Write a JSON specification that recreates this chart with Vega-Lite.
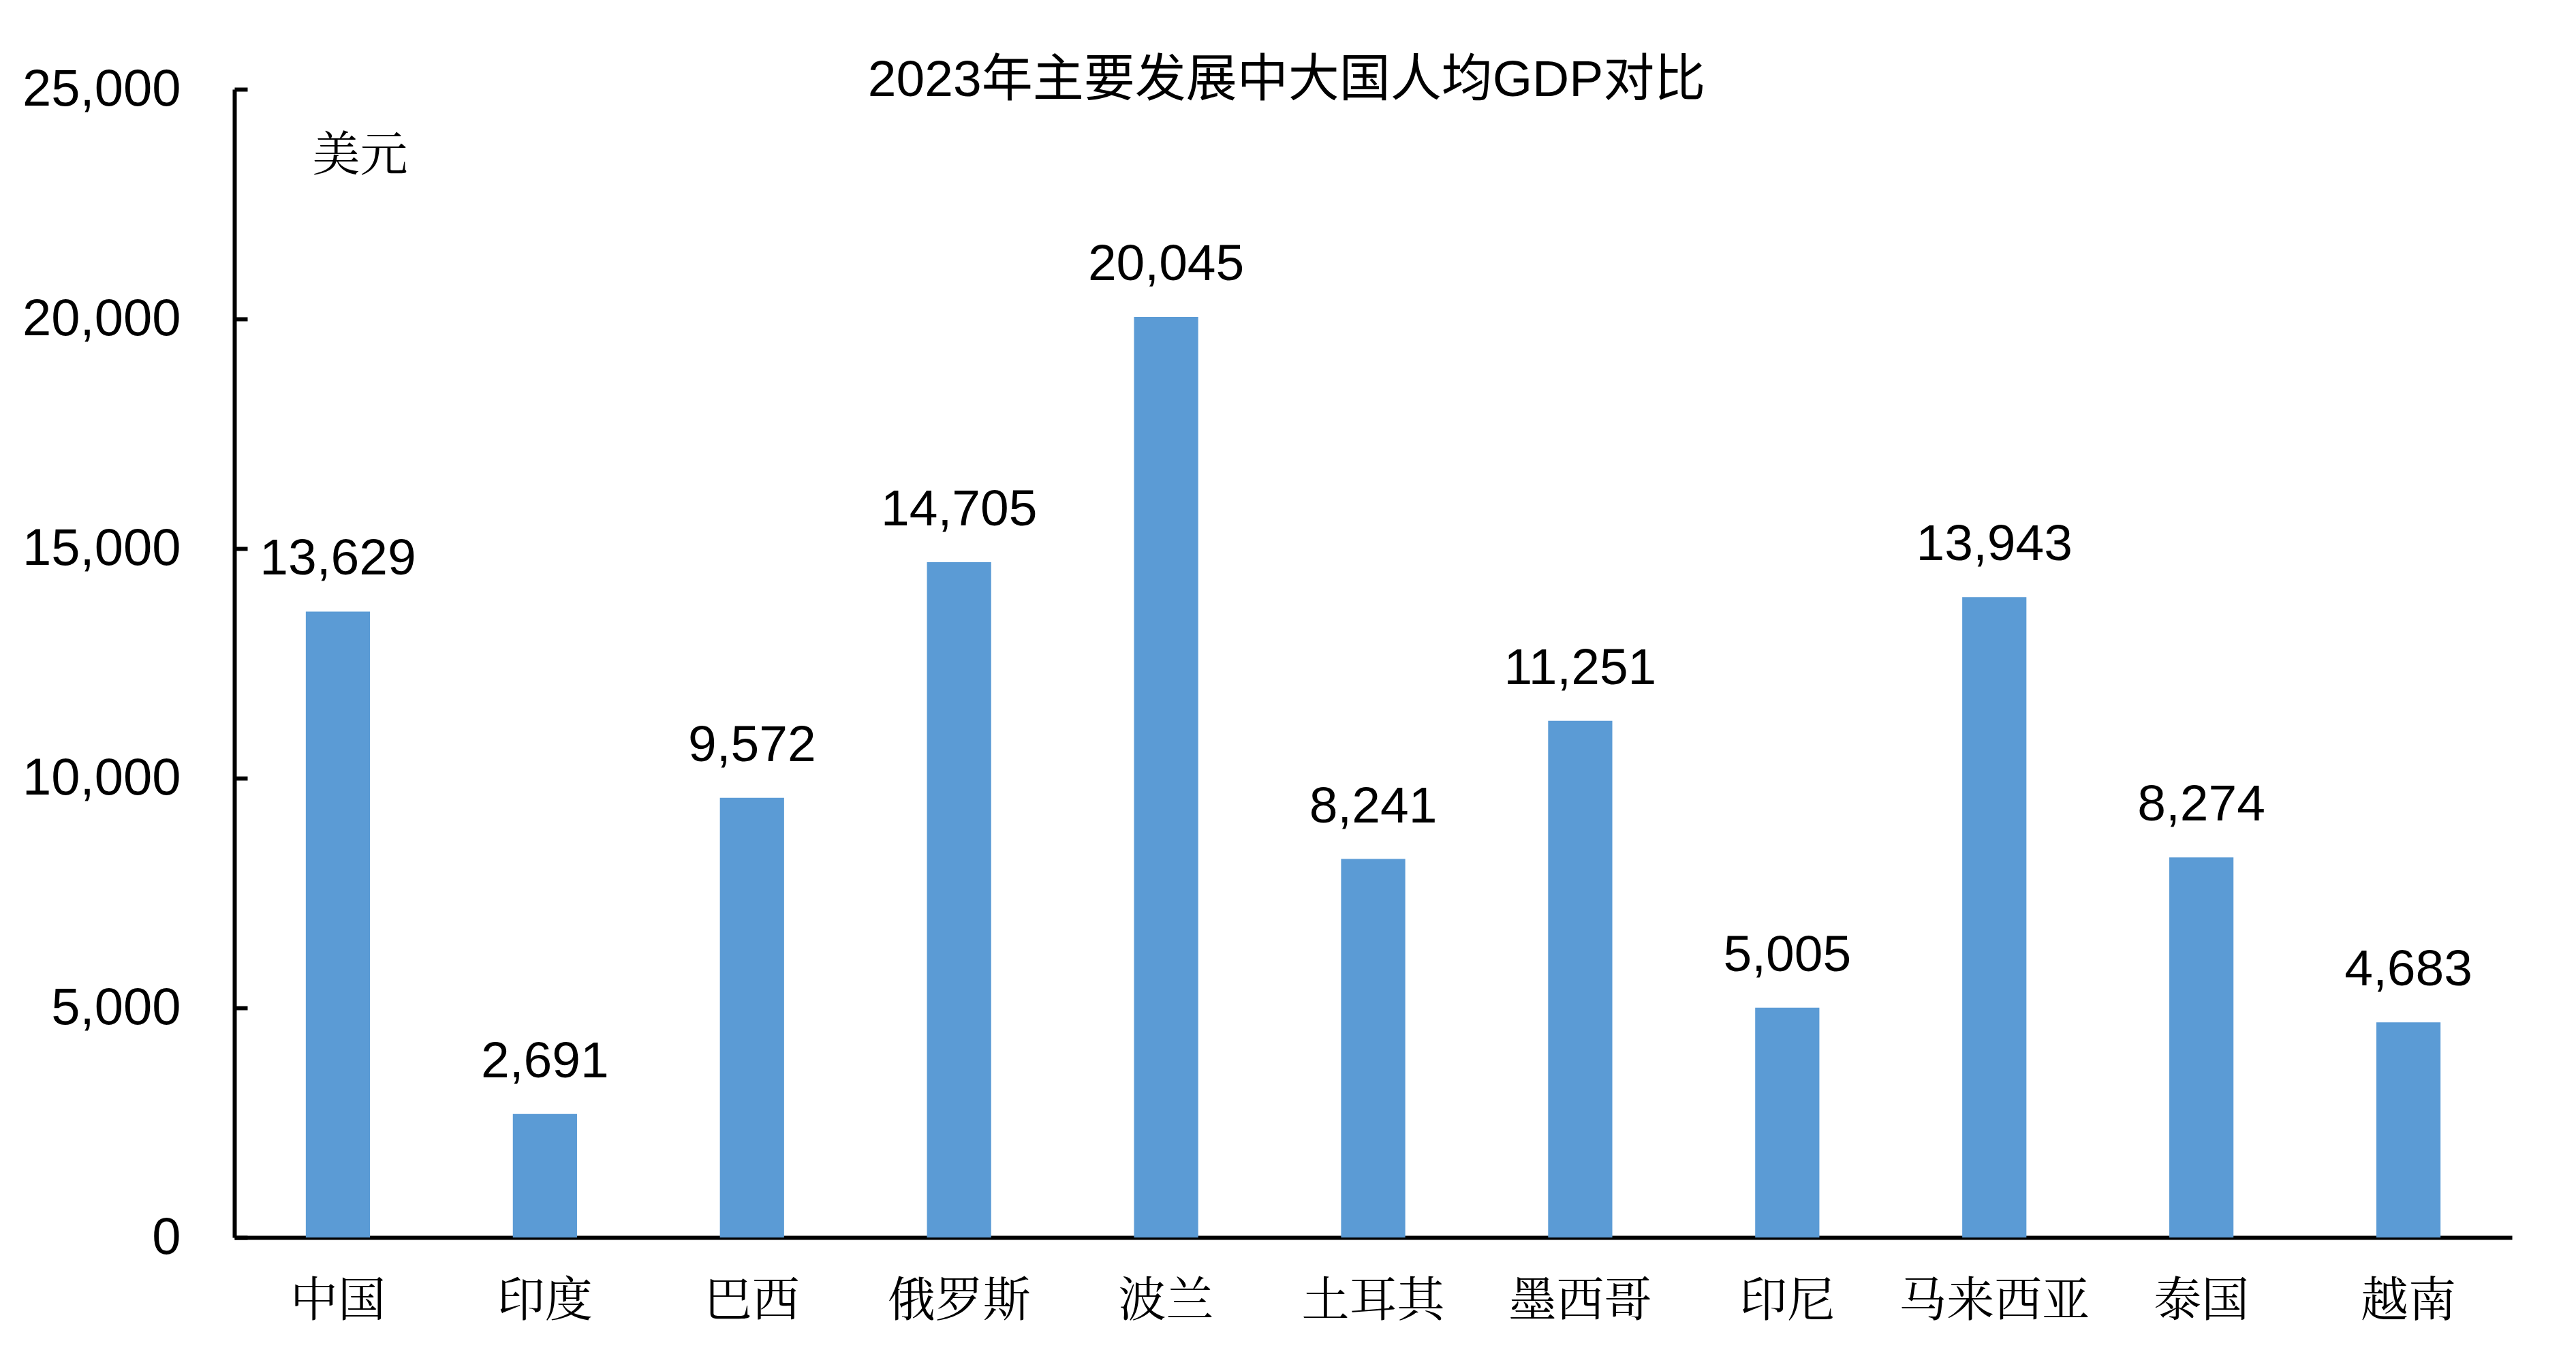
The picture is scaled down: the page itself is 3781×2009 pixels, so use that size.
{
  "$schema": "https://vega.github.io/schema/vega-lite/v6.json",
  "autosize": {"type": "none"},
  "width": 3343,
  "height": 1685,
  "padding": {"left": 344, "top": 131, "right": 94, "bottom": 193},
  "background": "white",
  "config": {"view": {"stroke": null}},
  "title": {
    "text": "2023年主要发展中大国人均GDP对比",
    "font": "Liberation Sans, Noto Sans CJK SC",
    "fontSize": 75,
    "fontWeight": "normal",
    "color": "black",
    "frame": "group",
    "anchor": "middle",
    "dx": -127,
    "baseline": "middle",
    "offset": -100
  },
  "data": {
    "values": [
      {"country": "中国", "gdp": 13629},
      {"country": "印度", "gdp": 2691},
      {"country": "巴西", "gdp": 9572},
      {"country": "俄罗斯", "gdp": 14705},
      {"country": "波兰", "gdp": 20045},
      {"country": "土耳其", "gdp": 8241},
      {"country": "墨西哥", "gdp": 11251},
      {"country": "印尼", "gdp": 5005},
      {"country": "马来西亚", "gdp": 13943},
      {"country": "泰国", "gdp": 8274},
      {"country": "越南", "gdp": 4683}
    ]
  },
  "encoding": {
    "x": {
      "field": "country",
      "type": "nominal",
      "sort": null,
      "scale": {"paddingInner": 0.69, "paddingOuter": 0.345},
      "axis": {
        "title": null,
        "labelAngle": 0,
        "labelLimit": 0,
        "labelFont": "Noto Serif CJK SC, Noto Sans CJK SC",
        "labelFontSize": 70,
        "labelColor": "black",
        "labelBaseline": "middle",
        "labelPadding": 94,
        "ticks": false,
        "tickSize": 0,
        "domainColor": "black",
        "domainWidth": 6,
        "grid": false
      }
    },
    "y": {
      "field": "gdp",
      "type": "quantitative",
      "scale": {"domain": [0, 25000], "nice": false},
      "axis": {
        "title": "美元",
        "titleAngle": 0,
        "titleX": 114,
        "titleY": 98,
        "titleAlign": "left",
        "titleBaseline": "middle",
        "titleFont": "Noto Serif CJK SC, Noto Sans CJK SC",
        "titleFontSize": 70,
        "titleFontWeight": "normal",
        "titleColor": "black",
        "values": [0, 5000, 10000, 15000, 20000, 25000],
        "format": ",d",
        "labelLimit": 0,
        "labelFont": "Liberation Sans",
        "labelFontSize": 76,
        "labelColor": "black",
        "labelPadding": 98,
        "ticks": true,
        "tickSize": -19,
        "tickWidth": 6,
        "tickColor": "black",
        "domainColor": "black",
        "domainWidth": 6,
        "grid": false
      }
    }
  },
  "layer": [
    {"mark": {"type": "bar", "color": "#5B9BD5"}},
    {
      "mark": {
        "type": "text",
        "font": "Liberation Sans",
        "fontSize": 75,
        "color": "black",
        "baseline": "middle",
        "dy": -77
      },
      "encoding": {"text": {"field": "gdp", "type": "quantitative", "format": ",d"}}
    }
  ]
}
